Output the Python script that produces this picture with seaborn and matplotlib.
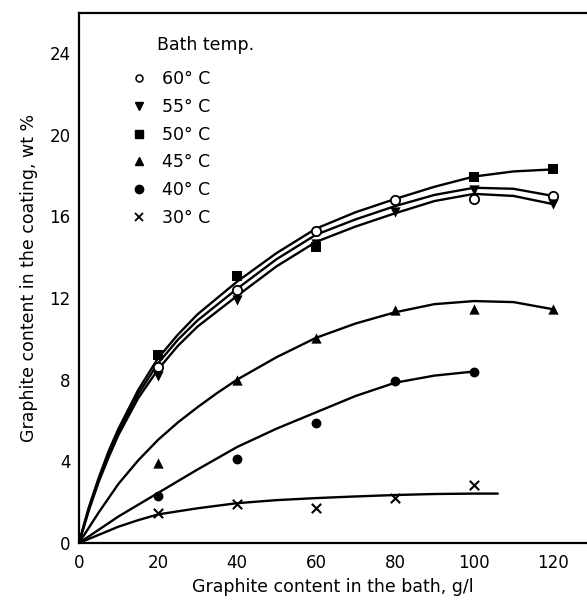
import matplotlib
matplotlib.use("Agg")
import matplotlib.pyplot as plt
import seaborn as sns
import pandas as pd
import numpy as np
from matplotlib.lines import Line2D

# measured points
x_pts = [20, 40, 60, 80, 100, 120]
t60 = [8.6, 12.4, 15.3, 16.8, 16.85, 17.0]
t55 = [8.2, 11.9, 14.65, 16.2, 17.3, 16.6]
t50 = [9.2, 13.1, 14.5, np.nan, 17.95, 18.3]
t45 = [3.9, 8.0, 10.05, 11.4, 11.45, 11.45]
t40 = [2.3, 4.1, 5.9, 7.95, 8.4, np.nan]
t30 = [1.45, 1.9, 1.7, 2.2, 2.85, np.nan]

# hand-drawn curves
cx = [0, 1.25, 2.5, 5, 7.5, 10, 15, 20, 25, 30, 40, 50, 60, 70, 80, 90, 100, 110, 120]
c50 = [0, 0.9, 1.75, 3.2, 4.5, 5.6, 7.5, 9.05, 10.2, 11.2, 12.8, 14.2, 15.4, 16.2, 16.85, 17.45, 17.95, 18.2, 18.3]
c60 = [0, 0.85, 1.7, 3.1, 4.35, 5.45, 7.3, 8.8, 9.95, 10.9, 12.45, 13.9, 15.1, 15.85, 16.5, 17.05, 17.4, 17.35, 17.0]
c55 = [0, 0.8, 1.6, 3.0, 4.2, 5.3, 7.1, 8.5, 9.65, 10.6, 12.1, 13.55, 14.75, 15.5, 16.15, 16.75, 17.1, 17.0, 16.6]
c45x = [0, 5, 10, 15, 20, 25, 30, 35, 40, 50, 60, 70, 80, 90, 100, 110, 120]
c45 = [0, 1.5, 2.9, 4.05, 5.05, 5.9, 6.65, 7.35, 8.0, 9.1, 10.05, 10.75, 11.3, 11.7, 11.85, 11.8, 11.45]
c40x = [0, 5, 10, 20, 30, 40, 50, 60, 70, 80, 90, 100]
c40 = [0, 0.65, 1.3, 2.45, 3.6, 4.7, 5.6, 6.4, 7.2, 7.85, 8.2, 8.4]
c30x = [0, 5, 10, 15, 20, 30, 40, 50, 60, 70, 80, 90, 100, 106]
c30 = [0, 0.4, 0.8, 1.12, 1.4, 1.7, 1.95, 2.1, 2.2, 2.28, 2.35, 2.4, 2.42, 2.42]

labels = ["60° C", "55° C", "50° C", "45° C", "40° C", "30° C"]
xticks = [0, 20, 40, 60, 80, 100, 120]
yticks = [0, 4, 8, 12, 16, 20, 24]

sns.set_style("white")
plt.rcParams['font.family'] = ['DejaVu Sans']
plt.rcParams['text.color'] = 'black'
plt.rcParams['axes.labelcolor'] = 'black'
plt.rcParams['xtick.color'] = 'black'
plt.rcParams['ytick.color'] = 'black'

fig = plt.figure(figsize=(5.87, 6.12), dpi=100)
ax = fig.add_axes([79/587, 1-543/612, 508/587, 530/612])

curves = [(cx, c60), (cx, c55), (cx, c50), (c45x, c45), (c40x, c40), (c30x, c30)]
for xs, ys in curves:
    sns.lineplot(x=xs, y=ys, ax=ax, color="black", lw=1.7, sort=False, estimator=None)

series = [t60, t55, t50, t45, t40, t30]
styles = [
    dict(marker="o", s=45, facecolor="white", edgecolor="black", linewidth=1.3),
    dict(marker="v", s=55, color="black", linewidth=0),
    dict(marker="s", s=50, color="black", linewidth=0),
    dict(marker="^", s=55, color="black", linewidth=0),
    dict(marker="o", s=50, color="black", linewidth=0),
    dict(marker="x", s=45, color="black", linewidth=1.5),
]
for ys, st in zip(series, styles):
    sns.scatterplot(x=x_pts, y=ys, ax=ax, zorder=3, **st)

ax.set_xlim(0, 128.6)
ax.set_ylim(0, 25.96)
ax.set_xticks(xticks)
ax.set_yticks(yticks)
ax.tick_params(direction="in", length=8, width=1.2, labelsize=12, colors="black", pad=6)
ax.tick_params(axis="x", pad=8)
for s in ["left", "bottom", "top"]:
    ax.spines[s].set_linewidth(1.6)
    ax.spines[s].set_color("black")
ax.spines["right"].set_visible(False)

ax.set_xlabel("Graphite content in the bath, g/l", fontsize=12.5, labelpad=4)
ax.set_ylabel("Graphite content in the coating, wt %", fontsize=12.5, labelpad=8)

handles = [
    Line2D([], [], ls="", marker="o", ms=5, mfc="white", mec="black", mew=1.1),
    Line2D([], [], ls="", marker="v", ms=6, color="black"),
    Line2D([], [], ls="", marker="s", ms=5.5, color="black"),
    Line2D([], [], ls="", marker="^", ms=6, color="black"),
    Line2D([], [], ls="", marker="o", ms=6, color="black"),
    Line2D([], [], ls="", marker="x", ms=6, color="black", mew=1.3),
]
leg = ax.legend(handles, labels, loc="upper left", bbox_to_anchor=(0.09, 0.905),
                frameon=False, fontsize=12.5, handlelength=0.8, handletextpad=0.95,
                labelspacing=0.56, borderaxespad=0)
fig.text(157/587, 1-45/612, "Bath temp.", fontsize=12.5, va="center", ha="left")

fig.savefig("out.png", dpi=100)
